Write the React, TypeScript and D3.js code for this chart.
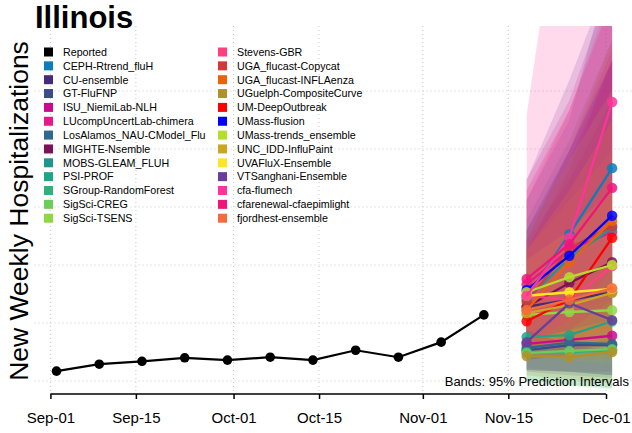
import React, { useEffect, useRef } from 'react';
import * as d3 from 'd3';

// weekly reported hospitalizations (Illinois)
const reportedDates = [
  '2023-09-02', '2023-09-09', '2023-09-16', '2023-09-23', '2023-09-30', '2023-10-07',
  '2023-10-14', '2023-10-21', '2023-10-28', '2023-11-04', '2023-11-11',
];
const reportedValues = [117, 129, 134, 140, 136, 141, 136, 153, 141, 167, 214];

const forecastDates = ['2023-11-18', '2023-11-25', '2023-12-02'];

const modelNames = [
  'CEPH-Rtrend_fluH', 'CU-ensemble', 'GT-FluFNP', 'ISU_NiemiLab-NLH', 'LUcompUncertLab-chimera',
  'LosAlamos_NAU-CModel_Flu', 'MIGHTE-Nsemble', 'MOBS-GLEAM_FLUH', 'PSI-PROF', 'SGroup-RandomForest',
  'SigSci-CREG', 'SigSci-TSENS', 'Stevens-GBR', 'UGA_flucast-Copycat', 'UGA_flucast-INFLAenza',
  'UGuelph-CompositeCurve', 'UM-DeepOutbreak', 'UMass-flusion', 'UMass-trends_ensemble',
  'UNC_IDD-InfluPaint', 'UVAFluX-Ensemble', 'VTSanghani-Ensemble', 'cfa-flumech',
  'cfarenewal-cfaepimlight', 'fjordhest-ensemble',
];
const modelColors = [
  '#0B7DBA', '#472A7A', '#3E4A89', '#CC0A8E', '#E6198A',
  '#31688E', '#7A1257', '#1F968B', '#20A486', '#2DB27D',
  '#6CCD5A', '#8FD744', '#FF3F7F', '#D03A3A', '#E8630A',
  '#B0902A', '#FF0000', '#0000FF', '#B5DE2B',
  '#C9A720', '#FDE725', '#6A3D9A', '#FF3399',
  '#F0147A', '#F46A3C',
];

// medians for the three forecast weeks
const modelMedians = [
  [245, 353, 467], [228, 240, 253], [153, 162, 162], [164, 171, 178], [267, 326, 357],
  [157, 166, 164], [228, 269, 305], [240, 312, 364], [176, 179, 203], [150, 150, 153],
  [148, 152, 155], [214, 219, 222], [247, 240, 298], [236, 329, 367], [222, 305, 376],
  [143, 141, 150], [203, 240, 347], [257, 316, 385], [253, 279, 300],
  [217, 231, 252], [247, 253, 259], [167, 234, 205], [247, 347, 581],
  [276, 336, 433], [222, 240, 260],
];
// 95% prediction interval bounds
const modelLower = [
  [171, 188, 240], [153, 153, 162], [116, 110, 105], [119, 116, 116], [171, 188, 222],
  [119, 116, 110], [145, 153, 162], [162, 188, 205], [122, 116, 110], [102, 93, 88],
  [98, 91, 86], [145, 136, 128], [153, 157, 171], [153, 171, 188], [153, 171, 188],
  [110, 102, 98], [136, 145, 162], [171, 188, 205], [162, 162, 171],
  [145, 136, 136], [188, 162, 153], [119, 116, 110], [162, 205, 291],
  [171, 188, 240], [153, 162, 171],
];
const modelUpper = [
  [412, 550, 826], [343, 447, 585], [240, 274, 326], [240, 309, 378], [447, 584, 791],
  [222, 257, 309], [360, 481, 653], [378, 515, 688], [240, 291, 378], [205, 240, 274],
  [205, 222, 257], [291, 360, 429], [412, 567, 774], [343, 498, 671], [343, 498, 688],
  [205, 222, 240], [326, 464, 653], [360, 498, 653], [360, 481, 602],
  [326, 412, 498], [309, 360, 429], [447, 619, 809], [559, 1055, 1446],
  [429, 567, 757], [326, 429, 550],
];

const xTickDates = ['2023-09-01', '2023-09-15', '2023-10-01', '2023-10-15', '2023-11-01', '2023-11-15', '2023-12-01'];
const yGridValues = [100, 200, 300, 400, 500, 600];

const parse = d3.utcParse('%Y-%m-%d');
const fontFamily = "'Liberation Sans', Arial, Helvetica, sans-serif";

const App = () => {
  const ref = useRef(null);

  useEffect(() => {
    const svg = d3.select(ref.current);
    svg.selectAll('*').remove();

    const x = d3
      .scaleUtc()
      .domain([parse('2023-09-01'), parse('2023-12-01')])
      .range([50.4, 606]);
    const y = d3.scaleLinear().domain([100, 600]).range([381, 91]);

    const plot = { left: 34.5, right: 634, top: 26, bottom: 394 };

    svg
      .append('defs')
      .append('clipPath')
      .attr('id', 'plot-clip')
      .append('rect')
      .attr('x', plot.left)
      .attr('y', plot.top)
      .attr('width', plot.right - plot.left)
      .attr('height', plot.bottom - plot.top);

    // grid
    const grid = svg.append('g').attr('stroke', '#C8C8C8').attr('stroke-dasharray', '1 3');
    grid
      .selectAll('line.h')
      .data(yGridValues)
      .enter()
      .append('line')
      .attr('x1', plot.left)
      .attr('x2', plot.right)
      .attr('y1', (d) => y(d))
      .attr('y2', (d) => y(d));
    grid
      .selectAll('line.v')
      .data(xTickDates)
      .enter()
      .append('line')
      .attr('x1', (d) => x(parse(d)))
      .attr('x2', (d) => x(parse(d)))
      .attr('y1', plot.top)
      .attr('y2', plot.bottom);

    const fDates = forecastDates.map(parse);

    // prediction bands
    const area = d3
      .area()
      .x((d) => x(d.date))
      .y0((d) => y(d.lo))
      .y1((d) => y(d.hi));

    const bands = svg.append('g').attr('clip-path', 'url(#plot-clip)');
    modelNames.forEach((name, i) => {
      const pts = fDates.map((date, j) => ({ date, lo: modelLower[i][j], hi: modelUpper[i][j] }));
      bands
        .append('path')
        .attr('d', area(pts))
        .attr('fill', modelColors[i])
        .attr('fill-opacity', 0.18);
    });

    // forecast medians
    const line = d3
      .line()
      .x((d) => x(d.date))
      .y((d) => y(d.v));

    const meds = svg.append('g');
    modelNames.forEach((name, i) => {
      const pts = fDates.map((date, j) => ({ date, v: modelMedians[i][j] }));
      const g = meds.append('g');
      g.append('path')
        .attr('d', line(pts))
        .attr('fill', 'none')
        .attr('stroke', modelColors[i])
        .attr('stroke-width', 2.3);
      g.selectAll('circle')
        .data(pts)
        .enter()
        .append('circle')
        .attr('cx', (d) => x(d.date))
        .attr('cy', (d) => y(d.v))
        .attr('r', 5.2)
        .attr('fill', modelColors[i])
        .attr('fill-opacity', 0.85);
    });

    // reported
    const rep = reportedDates.map((d, i) => ({ date: parse(d), v: reportedValues[i] }));
    svg
      .append('path')
      .attr('d', line(rep))
      .attr('fill', 'none')
      .attr('stroke', '#000')
      .attr('stroke-width', 2.2);
    svg
      .append('g')
      .selectAll('circle')
      .data(rep)
      .enter()
      .append('circle')
      .attr('cx', (d) => x(d.date))
      .attr('cy', (d) => y(d.v))
      .attr('r', 4.8)
      .attr('fill', '#000');

    // x axis
    const axis = svg.append('g').attr('transform', `translate(0, ${plot.bottom})`);
    axis
      .call(
        d3
          .axisBottom(x)
          .tickValues(xTickDates.map(parse))
          .tickFormat(d3.utcFormat('%b-%d'))
          .tickSize(5)
          .tickSizeOuter(0)
      )
      .call((g) => g.select('.domain').attr('stroke-width', 1.5).attr('d', `M${x(parse(xTickDates[0]))},0H${x(parse(xTickDates[6]))}`))
      .call((g) => g.selectAll('.tick line').attr('stroke-width', 1.5))
      .call((g) =>
        g
          .selectAll('.tick text')
          .attr('y', 29)
          .attr('dy', 0)
          .attr('font-size', 15)
          .attr('font-family', fontFamily)
          .attr('fill', '#000')
      );

    // labels
    svg
      .append('text')
      .attr('x', 35)
      .attr('y', 28)
      .attr('font-family', fontFamily)
      .attr('font-weight', 'bold')
      .attr('font-size', 31)
      .text('Illinois');

    svg
      .append('text')
      .attr('transform', 'translate(28, 211) rotate(-90)')
      .attr('text-anchor', 'middle')
      .attr('font-family', fontFamily)
      .attr('font-size', 26.5)
      .text('New Weekly Hospitalizations');

    svg
      .append('text')
      .attr('x', 629)
      .attr('y', 386)
      .attr('text-anchor', 'end')
      .attr('font-family', fontFamily)
      .attr('font-size', 13)
      .text('Bands: 95% Prediction Intervals');

    // legend
    const legendNames = ['Reported', ...modelNames];
    const legendColors = ['#000000', ...modelColors];
    const legend = svg.append('g').attr('font-family', fontFamily).attr('font-size', 10.7);
    legendNames.forEach((name, i) => {
      const col = i < 13 ? 0 : 1;
      const row = col === 0 ? i : i - 13;
      const lx = col === 0 ? 44 : 218;
      const ly = 52 + row * 13.85;
      legend
        .append('rect')
        .attr('x', lx)
        .attr('y', ly - 4.5)
        .attr('width', 9)
        .attr('height', 9)
        .attr('fill', legendColors[i]);
      legend
        .append('text')
        .attr('x', lx + 19)
        .attr('y', ly + 3.8)
        .text(name);
    });
  }, []);

  return (
    <svg
      ref={ref}
      width={632}
      height={433}
      style={{ position: 'absolute', left: 0, top: 0, background: '#fff' }}
    />
  );
};

export default App;
